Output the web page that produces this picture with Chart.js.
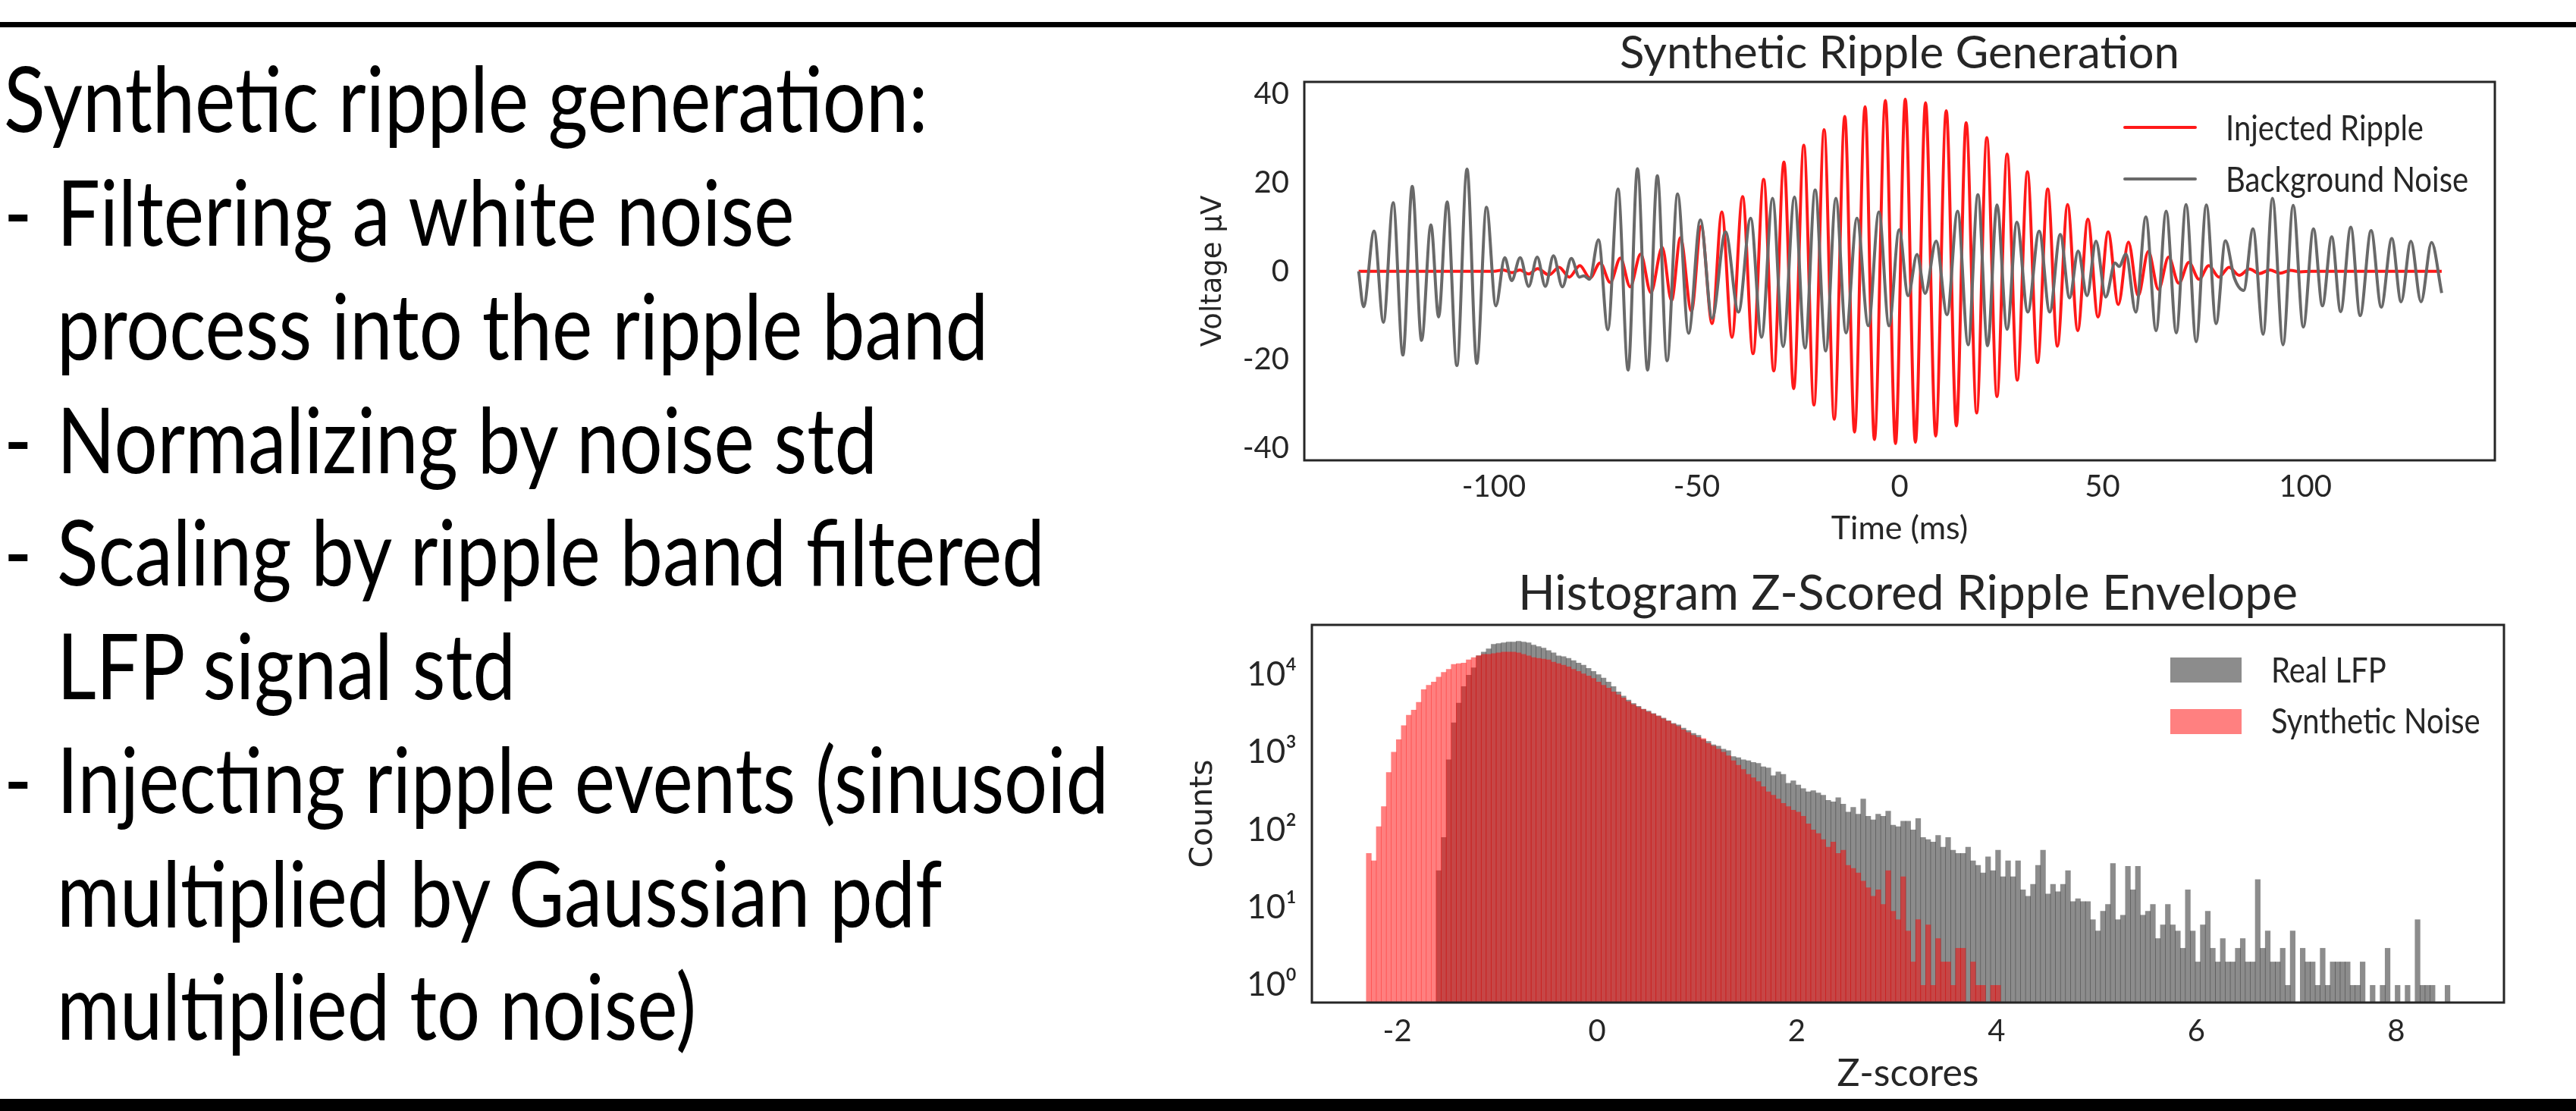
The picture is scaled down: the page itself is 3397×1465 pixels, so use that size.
<!DOCTYPE html>
<html><head><meta charset="utf-8">
<script src="https://cdn.jsdelivr.net/npm/chart.js@4.4.0/dist/chart.umd.min.js"></script>
<style>
html,body{margin:0;padding:0;background:#fff;}
body{width:3397px;height:1465px;position:relative;overflow:hidden;font-family:Lato,sans-serif;}
.rule{position:absolute;left:0;width:3397px;background:#000;}
.ln{position:absolute;font-family:Lato,sans-serif;font-weight:400;font-size:120px;line-height:144px;white-space:pre;color:#000;transform-origin:0 0;}
.dash{display:inline-block;}
.lg{position:absolute;font-family:Lato,sans-serif;font-size:46px;line-height:55.2px;white-space:pre;color:#262626;transform-origin:0 0;transform:scaleX(0.87);}
.sw{position:absolute;}
canvas{position:absolute;}
</style></head><body>

<div class="rule" style="top:29px;height:7px"></div>
<div class="rule" style="top:1449px;height:16px"></div>

<div class="ln" id="l1" style="left:5px;top:55.6px">Synthetic ripple generation:</div>
<div class="ln" style="left:5px;top:205.6px"><span class="dash">-</span>Filtering a white noise</div>
<div class="ln cont" style="left:75px;top:355.6px">process into the ripple band</div>
<div class="ln" style="left:5px;top:505.6px"><span class="dash">-</span>Normalizing by noise std</div>
<div class="ln" style="left:5px;top:653.6px"><span class="dash">-</span>Scaling by ripple band filtered</div>
<div class="ln cont" style="left:75px;top:803.6px">LFP signal std</div>
<div class="ln" style="left:5px;top:953.6px"><span class="dash">-</span>Injecting ripple events (sinusoid</div>
<div class="ln cont" style="left:75px;top:1103.6px">multiplied by Gaussian pdf</div>
<div class="ln cont" style="left:75px;top:1252.6px">multiplied to noise)</div>

<canvas id="c1" width="1780" height="740" style="left:1540px;top:0px"></canvas>
<canvas id="c2" width="1790" height="725" style="left:1540px;top:740px"></canvas>

<div class="sw" style="left:2800px;top:166px;width:97px;height:4px;border-radius:2px;background:rgba(255,0,0,0.9)"></div>
<div class="sw" style="left:2800px;top:234px;width:97px;height:4px;border-radius:2px;background:#696969"></div>
<div class="lg" style="left:2935px;top:139.6px">Injected Ripple</div>
<div class="lg" style="left:2935px;top:207.6px">Background Noise</div>

<div class="sw" style="left:2862px;top:867px;width:94px;height:33px;background:#8c8c8c"></div>
<div class="sw" style="left:2862px;top:935px;width:94px;height:33px;background:#ff8080"></div>
<div class="lg" style="left:2995px;top:854.6px">Real LFP</div>
<div class="lg" style="left:2995px;top:921.6px">Synthetic Noise</div>

<script>
// ---------- Top chart data: extrema (ms, µV) ----------
const rippleTime = [-133.3,-100,-97.7,-95.5,-93.6,-91.4,-89.2,-86.4,-83.9,-81.4,-78.8,-76.3,-73.8,-71.3,-68.8,-66.4,-63.8,-61.3,-58.5,-56.2,-54.0,-51.3,-48.9,-46.2,-43.8,-41.3,-38.7,-36.1,-33.5,-31.0,-28.5,-26.1,-23.6,-21.1,-18.6,-16.1,-13.5,-11.1,-8.5,-6.2,-3.5,-1.0,1.4,3.9,6.4,8.9,11.5,14.0,16.4,19.0,21.5,24.0,26.5,29.0,31.5,34.0,36.5,38.9,41.4,43.9,46.4,48.9,51.4,53.9,56.4,58.8,61.3,63.8,66.3,68.8,71.3,73.8,76.2,78.7,81.2,83.7,86.2,88.7,91.2,93.8,96.3,98.8,101.5,133.6];
const rippleVolt = [0,0,0.3,-0.3,0.3,-0.6,0.6,-0.8,0.9,-1.3,1.3,-1.5,1.9,-2.5,3.0,-3.5,3.9,-4.8,5.4,-6.6,7.6,-9.0,10.2,-11.8,13.4,-14.9,16.9,-18.6,20.8,-22.5,24.7,-26.5,28.5,-30.2,32.0,-33.4,35.0,-36.3,37.2,-38.0,38.6,-38.9,38.9,-38.6,38.1,-37.2,36.3,-34.9,33.6,-32.0,30.2,-28.3,26.5,-24.6,22.5,-20.6,18.6,-16.9,15.1,-13.4,11.8,-10.3,8.9,-7.5,6.6,-5.5,4.5,-4.1,3.2,-2.7,2.0,-1.8,1.3,-1.3,0.9,-0.9,0.5,-0.5,0.3,-0.4,0.2,-0.1,0,0];
const noiseTime = [-133.3,-132.1,-129.5,-127.2,-124.8,-122.4,-120.1,-117.8,-115.5,-113.6,-111.5,-109.1,-106.6,-104.2,-101.8,-99.5,-97.3,-95.6,-93.5,-91.4,-89.3,-87.3,-85.3,-83.1,-80.9,-78.9,-77.8,-76.4,-74.2,-71.9,-69.4,-66.9,-64.6,-62.1,-59.7,-57.3,-54.7,-52.0,-49.1,-46.2,-42.9,-39.7,-36.7,-34.0,-31.3,-28.7,-25.9,-23.3,-20.8,-18.2,-15.7,-13.2,-10.5,-7.7,-5.1,-2.6,-0.1,2.1,4.3,6.3,9.0,11.7,14.3,16.9,19.3,21.7,24.0,26.5,28.9,31.6,34.4,37.0,39.6,41.9,44.0,46.2,48.4,50.8,53.1,54.1,55.8,58.2,60.7,63.2,65.7,68.2,70.6,73.1,75.6,78.0,80.3,82.5,84.8,87.1,89.6,91.9,94.5,97.0,99.5,102.0,104.2,106.5,108.7,111.2,113.5,116.2,118.7,121.3,123.6,126.0,128.5,131.1,133.6];
const noiseVolt = [0,-8.0,9.1,-11.5,15.5,-18.9,19.2,-15.6,10.5,-10.3,15.7,-21.3,23.1,-20.8,14.5,-7.8,3.1,-2.1,3.1,-3.4,3.2,-3.4,3.5,-3.5,2.9,-1.3,-1.0,-1.8,7.1,-13.2,18.6,-22.3,23.2,-22.3,21.6,-20.2,17.5,-14.0,11.6,-10.6,8.9,-9.2,12.0,-14.9,16.5,-17.0,16.8,-17.3,18.4,-18.0,16.5,-13.9,12.0,-12.3,13.4,-12.3,9.4,-5.5,3.8,-5.0,6.8,-9.8,13.6,-16.6,17.3,-16.8,15.0,-13.1,11.1,-9.2,9.1,-9.2,8.3,-6.0,4.6,-5.5,6.8,-5.8,1.9,1.1,3.9,-9.2,12.3,-13.4,13.6,-13.9,15.1,-15.9,15.0,-11.8,6.9,-1.5,-4.3,9.6,-14.2,16.5,-16.6,14.9,-12.6,9.6,-7.8,7.8,-9.1,10.0,-10.0,9.2,-8.1,7.4,-6.9,6.8,-6.9,6.5,-4.9];
const timeTicks = [-100,-50,0,50,100];
const timeTickLabels = ['-100','-50','0','50','100'];
const voltTicks = [-40,-20,0,20,40];
const voltTickLabels = ['-40','-20','0','20','40'];

// ---------- Histogram data: bin centres (z-score) and counts ----------
const zBins = [-2.285,-2.235,-2.185,-2.135,-2.085,-2.035,-1.985,-1.935,-1.885,-1.835,
-1.785,-1.735,-1.685,-1.635,-1.585,-1.535,-1.485,-1.435,-1.385,-1.335,
-1.285,-1.235,-1.185,-1.135,-1.085,-1.035,-0.985,-0.935,-0.885,-0.835,
-0.785,-0.735,-0.685,-0.635,-0.585,-0.535,-0.485,-0.435,-0.385,-0.335,
-0.285,-0.235,-0.185,-0.135,-0.085,-0.035,0.015,0.065,0.115,0.165,
0.215,0.265,0.315,0.365,0.415,0.465,0.515,0.565,0.615,0.665,
0.715,0.765,0.815,0.865,0.915,0.965,1.015,1.065,1.115,1.165,
1.215,1.265,1.315,1.365,1.415,1.465,1.515,1.565,1.615,1.665,
1.715,1.765,1.815,1.865,1.915,1.965,2.015,2.065,2.115,2.165,
2.215,2.265,2.315,2.365,2.415,2.465,2.515,2.565,2.615,2.665,
2.715,2.765,2.815,2.865,2.915,2.965,3.015,3.065,3.115,3.165,
3.215,3.265,3.315,3.365,3.415,3.465,3.515,3.565,3.615,3.665,
3.715,3.765,3.815,3.865,3.915,3.965,4.015,4.065,4.115,4.165,
4.215,4.265,4.315,4.365,4.415,4.465,4.515,4.565,4.615,4.665,
4.715,4.765,4.815,4.865,4.915,4.965,5.015,5.065,5.115,5.165,
5.215,5.265,5.315,5.365,5.415,5.465,5.515,5.565,5.615,5.665,
5.715,5.765,5.815,5.865,5.915,5.965,6.015,6.065,6.115,6.165,
6.215,6.265,6.315,6.365,6.415,6.465,6.515,6.565,6.615,6.665,
6.715,6.765,6.815,6.865,6.915,6.965,7.015,7.065,7.115,7.165,
7.215,7.265,7.315,7.365,7.415,7.465,7.515,7.565,7.615,7.665,
7.715,7.765,7.815,7.865,7.915,7.965,8.015,8.065,8.115,8.165,
8.215,8.265,8.315,8.365,8.415,8.465,8.515];
const realCounts = [null,null,null,null,null,null,null,null,null,null,
null,null,null,null,30,80,800,2400,4300,7000,
9800,12200,17500,19500,21400,24500,25100,25700,26300,26300,
26900,26300,25700,24000,22900,21900,20400,19000,17400,17000,
16200,15100,14100,13200,12000,11000,10000,9000,8000,7000,
6000,5300,4700,4250,3900,3600,3400,3150,2950,2750,
2550,2350,2250,2050,1900,1750,1650,1450,1380,1250,
1200,1100,1050,880,850,800,780,740,720,650,
630,500,560,520,400,430,380,340,310,320,
300,280,240,230,260,215,170,195,160,250,
150,135,160,150,175,115,110,130,130,100,
140,80,75,70,85,60,80,55,50,50,
60,40,35,28,45,30,55,25,40,25,
40,17,14,20,35,55,15,20,16,20,
30,12,13,12,12,7,5,9,11,37,
7,8,34,17,34,8,9,11,4,6,
11,6,5,3,17,5,2,6,9,3,
2,4,2,2,3,4,2,2,23,3,
5,2,2,3,1,5,null,3,2,2,
1,3,1,2,2,2,2,1,1,2,
null,1,null,1,3,null,1,null,1,null,
7,1,1,1,null,null,1];
const synthCounts = [50,40,110,200,550,1000,1450,2200,3000,3500,
4400,6400,7300,8000,9300,10700,11700,13500,13800,14100,
15500,16600,17400,18200,18200,18600,19000,19500,19500,19500,
19000,18200,17400,16600,16200,15800,15500,14500,13800,13200,
12600,11700,11000,10200,9600,8900,8000,7300,6700,6000,
5500,5000,4500,4100,3800,3550,3300,3100,2900,2700,
2500,2300,2150,1950,1800,1650,1550,1500,1300,1200,
1100,1000,900,780,680,600,520,470,420,360,
310,280,250,220,200,180,170,150,120,100,
90,75,60,70,50,55,35,32,28,22,
18,14,17,11,30,9,7,25,5,2,
7,1,6,1,4,2,2,1,3,3,
null,2,1,1,null,1,1,null,null,null,
null,null,null,null,null,null,null,null,null,null,
null,null,null,null,null,null,null,null,null,null,
null,null,null,null,null,null,null,null,null,null,
null,null,null,null,null,null,null,null,null,null,
null,null,null,null,null,null,null,null,null,null,
null,null,null,null,null,null,null,null,null,null,
null,null,null,null,null,null,null,null,null,null,
null,null,null,null,null,null,null,null,null,null,
null,null,null,null,null,null,null];
const zTicks = [-2,0,2,4,6,8];
const zTickLabels = ['-2','0','2','4','6','8'];
const countTicks = [1,10,100,1000,10000];
const countTickLabels = ['10\u2070','10\u00B9','10\u00B2','10\u00B3','10\u2074'];

// ---------- left text width fit ----------
(function(){
  const m = document.createElement('canvas').getContext('2d');
  m.font = '400 120px Lato';
  const w1 = m.measureText('Synthetic ripple generation:').width;
  const w7 = m.measureText('Injecting ripple events (sinusoid').width;
  const s = (1214 / w1 + 1392 / w7) / 2;
  document.querySelectorAll('.ln').forEach(el => { el.style.transform = 'scaleX(' + s + ')'; });
  document.querySelectorAll('.dash').forEach(el => { el.style.width = (70 / s) + 'px'; });
})();

// ---------- charts ----------
Chart.defaults.font.family = 'Lato';
Chart.defaults.color = '#262626';
const ink = '#262626';
const framePlugin = {
  id: 'frame',
  afterDraw(chart) {
    const {ctx, chartArea: a} = chart;
    ctx.save();
    ctx.strokeStyle = ink;
    ctx.lineWidth = 3;
    ctx.strokeRect(a.left, a.top, a.right - a.left, a.bottom - a.top);
    ctx.restore();
  }
};

new Chart(document.getElementById('c1'), {
  type: 'line',
  data: {
    datasets: [
      { label: 'Injected Ripple', data: rippleTime.map((t, i) => ({x: t, y: rippleVolt[i]})),
        borderColor: 'rgba(255,0,0,0.9)', borderWidth: 4, pointRadius: 0, fill: false,
        cubicInterpolationMode: 'monotone', order: 1 },
      { label: 'Background Noise', data: noiseTime.map((t, i) => ({x: t, y: noiseVolt[i]})),
        borderColor: '#696969', borderWidth: 4, pointRadius: 0, fill: false,
        cubicInterpolationMode: 'monotone', order: 0 }
    ]
  },
  options: {
    responsive: false, animation: false, events: [],
    layout: {padding: {left: 0, right: 30, top: 0, bottom: 0}},
    plugins: {
      legend: {display: false}, tooltip: {enabled: false},
      title: {display: true, fullSize: false, text: 'Synthetic Ripple Generation', color: ink,
        font: {size: 60, weight: 'normal'}, padding: {top: 35, bottom: 1}}
    },
    scales: {
      x: {
        type: 'linear', min: -146.7, max: 146.7,
        grid: {display: false, drawTicks: false}, border: {display: false},
        afterBuildTicks: s => { s.ticks = timeTicks.map(v => ({value: v})); },
        ticks: {font: {size: 40}, color: ink, padding: 11, autoSkip: false, maxRotation: 0,
          callback: (v, i) => timeTickLabels[i]},
        title: {display: true, text: 'Time (ms)', color: ink, font: {size: 43}, padding: {top: 0, bottom: 17}},
        afterFit: s => { s.height = 133; }
      },
      y: {
        type: 'linear', min: -42.7, max: 42.8,
        grid: {display: false, drawTicks: false}, border: {display: false},
        afterBuildTicks: s => { s.ticks = voltTicks.map(v => ({value: v})); },
        ticks: {font: {size: 40}, color: ink, padding: 20, autoSkip: false,
          callback: (v, i) => voltTickLabels[i]},
        title: {display: true, text: 'Voltage \u03BCV', color: ink,
          font: {family: 'DejaVu Sans', size: 37}, padding: {top: 37.8, bottom: 0}},
        afterFit: s => { s.width = 180; }
      }
    }
  },
  plugins: [framePlugin]
});

const toBars = counts => zBins.map((z, i) => ({x: z, y: counts[i]})).filter(d => d.y !== null);
new Chart(document.getElementById('c2'), {
  type: 'bar',
  data: {
    datasets: [
      { label: 'Real LFP', data: toBars(realCounts), backgroundColor: 'rgba(0,0,0,0.45)',
        borderWidth: 0, grouped: false, barPercentage: 1, categoryPercentage: 1, order: 1 },
      { label: 'Synthetic Noise', data: toBars(synthCounts), backgroundColor: 'rgba(255,0,0,0.5)',
        borderWidth: 0, grouped: false, barPercentage: 1, categoryPercentage: 1, order: 0 }
    ]
  },
  options: {
    responsive: false, animation: false, events: [],
    layout: {padding: {left: 0, right: 28, top: 0, bottom: 0}},
    plugins: {
      legend: {display: false}, tooltip: {enabled: false},
      title: {display: true, fullSize: false, text: 'Histogram Z-Scored Ripple Envelope', color: ink,
        font: {size: 64, weight: 'normal'}, padding: {top: 4.5, bottom: 2.7}}
    },
    scales: {
      x: {
        type: 'linear', offset: false, min: -2.855, max: 9.08,
        grid: {display: false, drawTicks: false, offset: false}, border: {display: false},
        afterBuildTicks: s => { s.ticks = zTicks.map(v => ({value: v})); },
        ticks: {font: {size: 40}, color: ink, padding: 14, autoSkip: false, maxRotation: 0,
          callback: (v, i) => zTickLabels[i]},
        title: {display: true, text: 'Z-scores', color: ink, font: {size: 50}, padding: {top: 0, bottom: 19}},
        afterFit: s => { s.height = 143; }
      },
      y: {
        type: 'logarithmic', min: 0.64, max: 43600, beginAtZero: false,
        grid: {display: false, drawTicks: false}, border: {display: false},
        afterBuildTicks: s => { s.ticks = countTicks.map(v => ({value: v})); },
        ticks: {font: {size: 44}, color: ink, padding: 20, autoSkip: false,
          callback: (v, i) => countTickLabels[i]},
        title: {display: true, text: 'Counts', color: ink,
          font: {family: 'DejaVu Sans', size: 41}, padding: {top: 22.4, bottom: 0}},
        afterFit: s => { s.width = 190; }
      }
    }
  },
  plugins: [framePlugin]
});
</script>
</body></html>
